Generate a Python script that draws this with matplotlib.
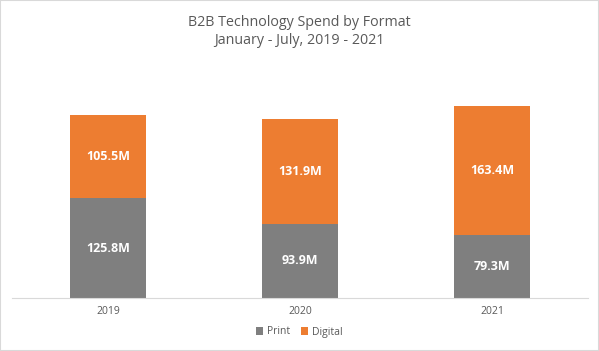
import numpy as np
import matplotlib.pyplot as plt
from matplotlib.patches import Rectangle

years = ["2019", "2020", "2021"]
print_spend = [125.8, 93.9, 79.3]
digital_spend = [105.5, 131.9, 163.4]

c_print = "#7f7f7f"
c_digital = "#ed7d31"
c_text = "#595959"

plt.rcParams['font.family'] = ['Open Sans', 'DejaVu Sans']

fig = plt.figure(figsize=(5.99, 3.51), dpi=100)
# axes: baseline at 298 px, x from 12 to 588 px
W, H = 599, 351
base = 298
top = 60
ax = fig.add_axes([12 / W, (H - base) / H, 576 / W, (base - top) / H])
px_per_m = 0.791
ax.set_ylim(0, (base - top) / px_per_m)
ax.set_xlim(-0.5, 2.5)

x = np.arange(len(years))
w = 0.40
ax.bar(x, print_spend, w, color=c_print, label="Print")
ax.bar(x, digital_spend, w, bottom=print_spend, color=c_digital, label="Digital")

for i in range(len(years)):
    ax.text(x[i], print_spend[i] / 2, f"{print_spend[i]:.1f}M", ha="center", va="center",
            color="white", fontsize=9, fontweight="bold")
    ax.text(x[i], print_spend[i] + digital_spend[i] / 2, f"{digital_spend[i]:.1f}M",
            ha="center", va="center", color="white", fontsize=9, fontweight="bold")

for s in ["top", "right", "left"]:
    ax.spines[s].set_visible(False)
ax.spines["bottom"].set_color("#d9d9d9")
ax.set_yticks([])
ax.set_xticks(x)
ax.set_xticklabels(years, color=c_text, fontsize=7.5)
ax.tick_params(axis="x", length=0, pad=6)

fig.text(0.5, 1 - 22 / H, "B2B Technology Spend by Format", ha="center", va="center",
         color=c_text, fontsize=10.3)
fig.text(0.5, 1 - 41 / H, "January - July, 2019 - 2021", ha="center", va="center",
         color=c_text, fontsize=10.3)

leg = fig.legend(loc="center", bbox_to_anchor=(0.5, 1 - 332 / H), ncol=2, frameon=False,
                 fontsize=7.5, handlelength=0.7, handleheight=0.7, handletextpad=0.4,
                 columnspacing=1.0)
for t in leg.get_texts():
    t.set_color(c_text)

fig.patches.append(Rectangle((0, 0), 1, 1, transform=fig.transFigure, fill=False,
                             edgecolor="#d9d9d9", linewidth=1.5))

fig.savefig("out.png", dpi=100)
